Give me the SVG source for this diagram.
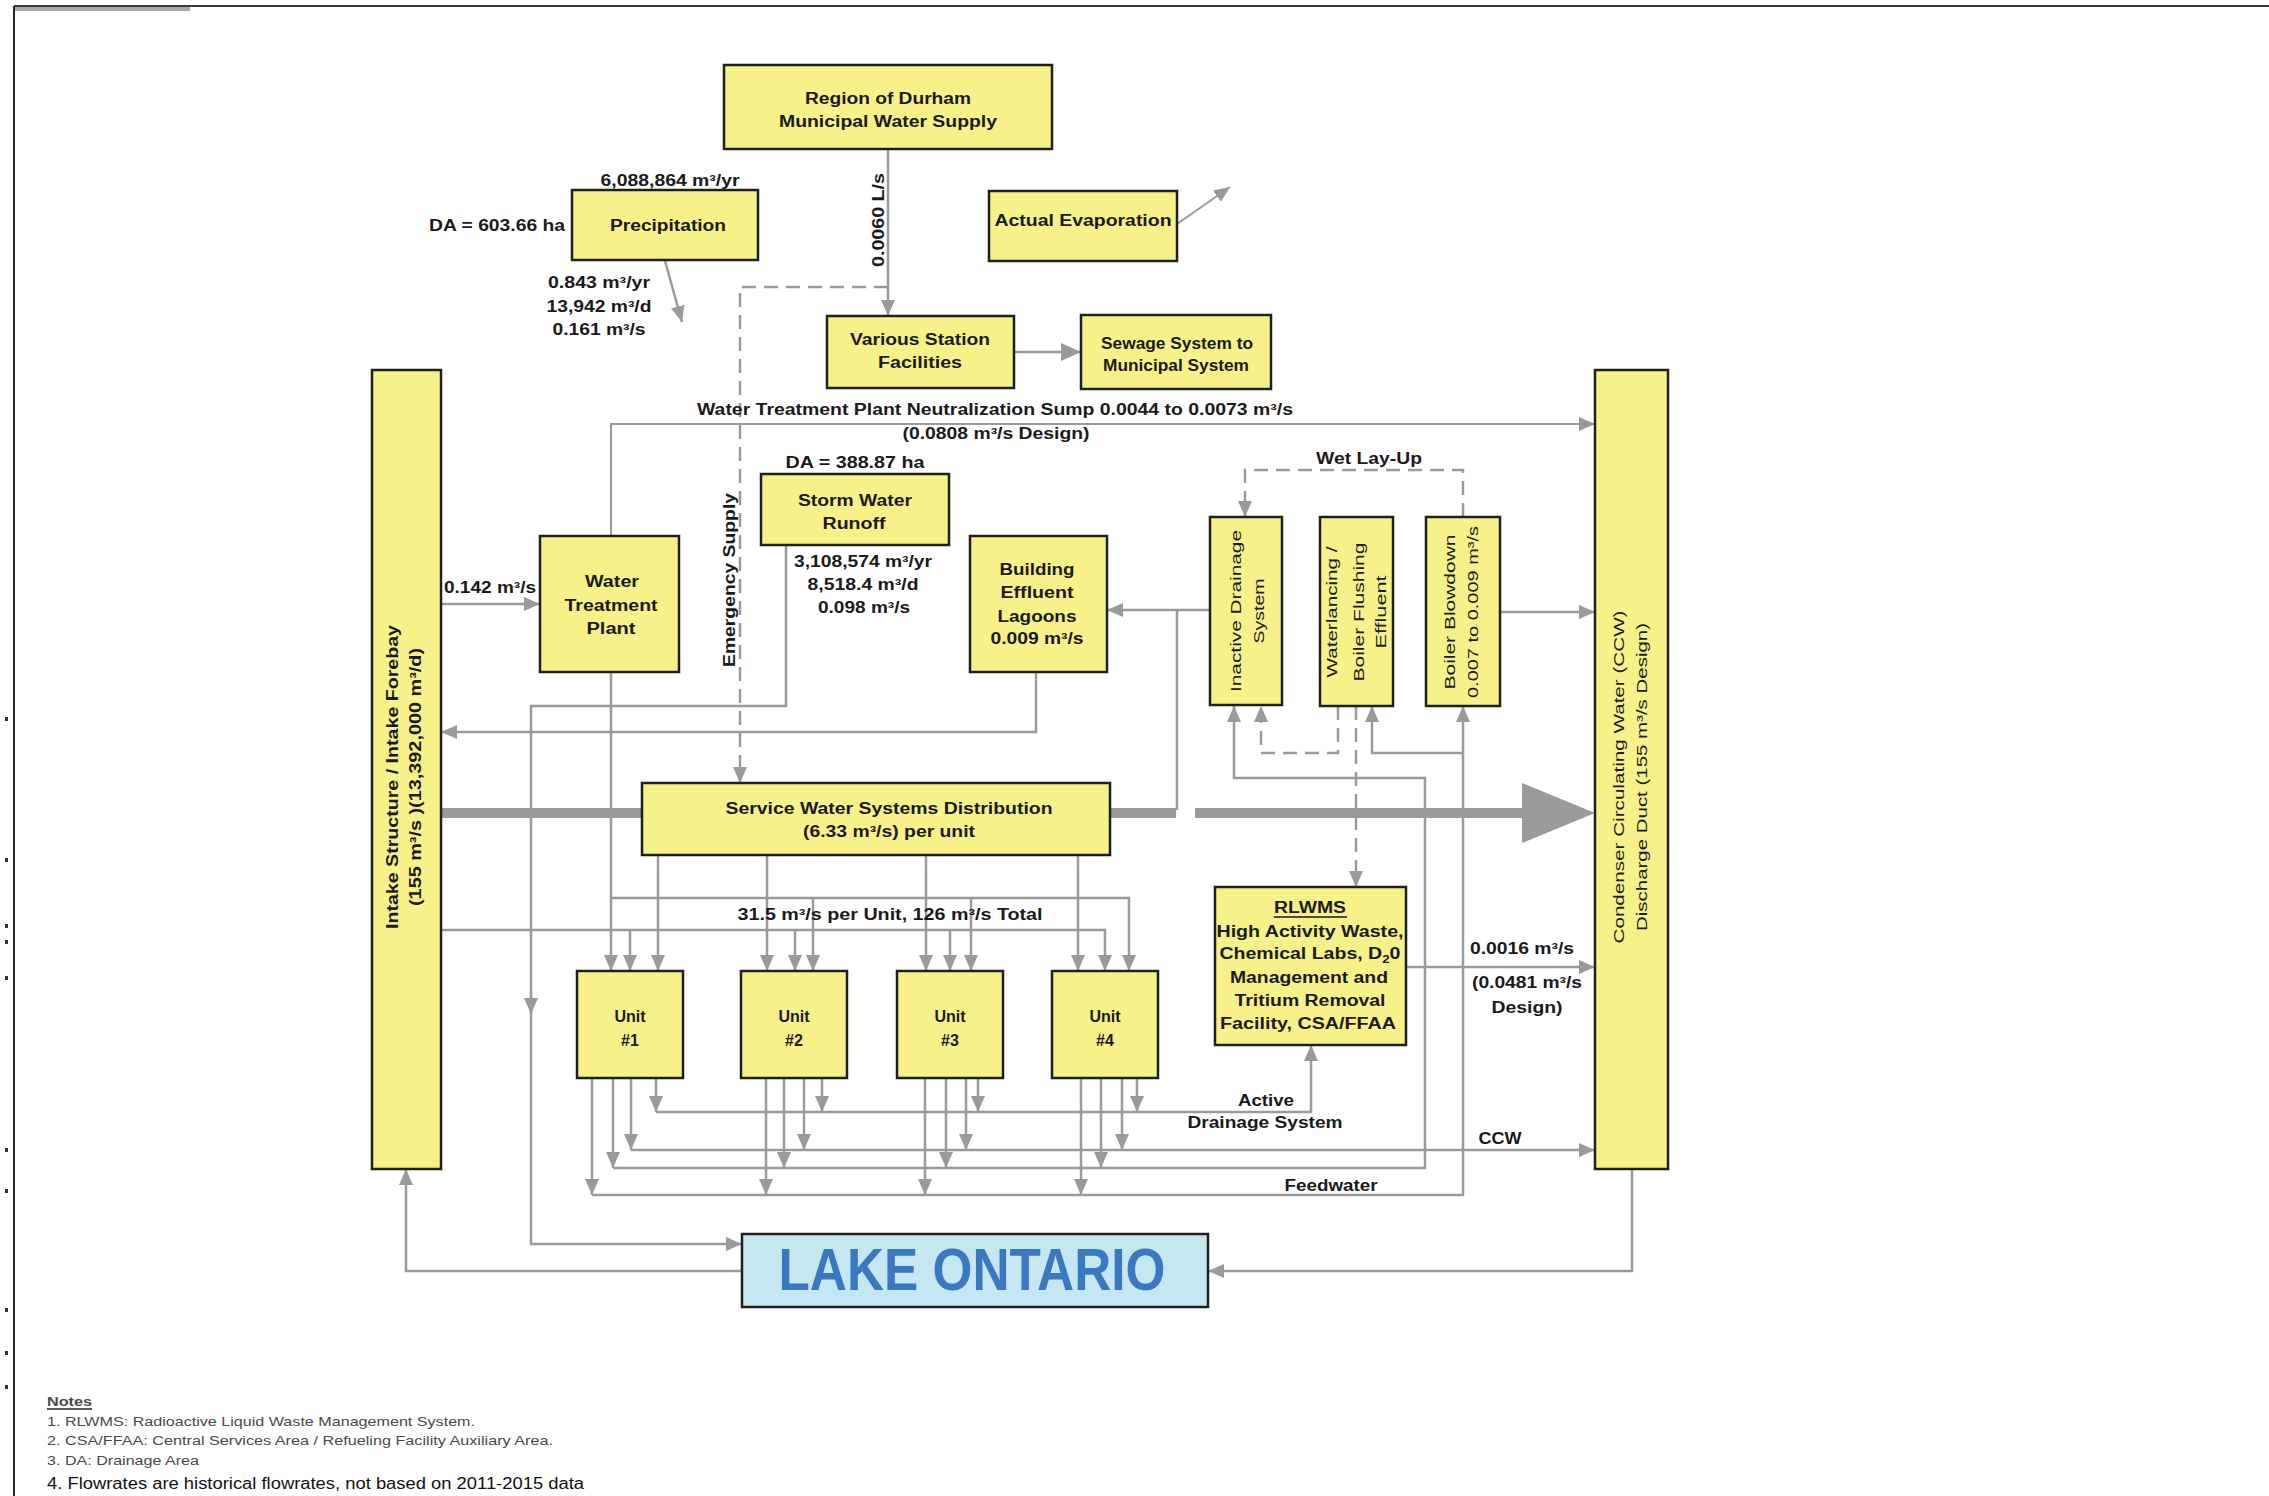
<svg xmlns="http://www.w3.org/2000/svg" width="2269" height="1496" viewBox="0 0 2269 1496">
<style>
.box{fill:#f7f189;stroke:#1f1f1f;stroke-width:2.5}
.lake{fill:#c4e7f1;stroke:#1f1f1f;stroke-width:2.5}
.ln{fill:none;stroke:#9a9a9a;stroke-width:2.5}
.thin{fill:none;stroke:#9a9a9a;stroke-width:2}
.dash{stroke-dasharray:14 8}
.t{font-family:"Liberation Sans",Arial,sans-serif;font-weight:bold;font-size:16px;fill:#1a1a1a;text-anchor:middle}
.r{font-family:"Liberation Sans",Arial,sans-serif;font-size:15px;fill:#1a1a1a;text-anchor:middle}
.note{font-family:"Liberation Sans",Arial,sans-serif;font-size:13px;fill:#4a4a4a}
</style>
<defs>
<marker id="ah" markerUnits="userSpaceOnUse" viewBox="0 0 16 14" markerWidth="16" markerHeight="14" refX="16" refY="7" orient="auto">
<path d="M0,0 L16,7 L0,14 z" fill="#9a9a9a"/>
</marker>
<marker id="ahb" markerUnits="userSpaceOnUse" viewBox="0 0 20 18" markerWidth="20" markerHeight="18" refX="20" refY="9" orient="auto">
<path d="M0,0 L20,9 L0,18 z" fill="#9a9a9a"/>
</marker>
</defs>
<rect width="2269" height="1496" fill="#ffffff"/>

<!-- page frame -->
<g id="frame">
<line x1="14" y1="6" x2="2269" y2="6" stroke="#3a3a3a" stroke-width="2"/>
<rect x="14" y="7" width="176" height="4" fill="#a8a8a8"/>
<line x1="14" y1="6" x2="14" y2="1496" stroke="#2a2a2a" stroke-width="2"/>
<g fill="#333">
<rect x="5" y="717" width="3" height="4"/><rect x="5" y="858" width="3" height="4"/>
<rect x="5" y="924" width="3" height="4"/><rect x="5" y="940" width="3" height="4"/>
<rect x="5" y="976" width="3" height="4"/><rect x="5" y="1148" width="3" height="4"/>
<rect x="5" y="1189" width="3" height="4"/><rect x="5" y="1308" width="3" height="4"/>
<rect x="5" y="1351" width="3" height="4"/><rect x="5" y="1385" width="3" height="4"/>
</g>
</g>

<!-- connectors -->
<g id="connectors">
<!-- main cooling water band -->
<g fill="#9a9a9a">
<rect x="441" y="808" width="200" height="10"/>
<rect x="1110" y="808" width="66" height="10"/>
<rect x="1195" y="808" width="330" height="10"/>
<polygon points="1522,783 1595,813 1522,843"/>
</g>
<path class="ln" d="M888,149 V316" marker-end="url(#ah)"/>
<path class="ln dash" d="M888,287 H740 V783" marker-end="url(#ah)"/>
<path class="ln" d="M665,261 L682,322" marker-end="url(#ah)"/>
<path class="thin" d="M1177,224 L1230,187" marker-end="url(#ah)"/>
<path class="ln" stroke-width="4" d="M1014,352 H1081" marker-end="url(#ahb)"/>
<path class="ln" d="M441,604 H540" marker-end="url(#ah)"/>
<path class="thin" d="M611,536 V424 H1595" marker-end="url(#ah)"/>
<!-- feeds into the units -->
<path class="ln" d="M611,672 V971" marker-end="url(#ah)"/>
<path class="ln" d="M611,898 H1129 V971" marker-end="url(#ah)"/>
<path class="ln" d="M813,898 V971" marker-end="url(#ah)"/>
<path class="ln" d="M971,898 V971" marker-end="url(#ah)"/>
<path class="ln" d="M441,930 H1105 V971" marker-end="url(#ah)"/>
<path class="ln" d="M630,930 V971" marker-end="url(#ah)"/>
<path class="ln" d="M795,930 V971" marker-end="url(#ah)"/>
<path class="ln" d="M950,930 V971" marker-end="url(#ah)"/>
<path class="ln" d="M658,855 V971" marker-end="url(#ah)"/>
<path class="ln" d="M767,855 V971" marker-end="url(#ah)"/>
<path class="ln" d="M926,855 V971" marker-end="url(#ah)"/>
<path class="ln" d="M1078,855 V971" marker-end="url(#ah)"/>
<!-- storm water and lagoons -->
<path class="ln" d="M786,545 V706 H531 V1244 H742" marker-end="url(#ah)"/>
<path class="ln" d="M531,995 V1014" marker-end="url(#ah)"/>
<path class="ln" d="M1036,672 V732 H441" marker-end="url(#ah)"/>
<path class="ln" d="M1210,610 H1107" marker-end="url(#ah)"/>
<path class="ln" d="M1177,610 V810"/>
<path class="ln" d="M1500,612 H1595" marker-end="url(#ah)"/>
<!-- wet lay-up and flushing -->
<path class="ln dash" d="M1463,517 V470 H1245 V517" marker-end="url(#ah)"/>
<path class="ln dash" d="M1338,706 V753 H1261 V706" marker-end="url(#ah)"/>
<path class="ln dash" d="M1356,706 V887" marker-end="url(#ah)"/>
<!-- unit outlets -->
<path class="ln" d="M592,1078 V1195" marker-end="url(#ah)"/>
<path class="ln" d="M613,1078 V1168" marker-end="url(#ah)"/>
<path class="ln" d="M631,1078 V1150" marker-end="url(#ah)"/>
<path class="ln" d="M656,1078 V1112" marker-end="url(#ah)"/>
<path class="ln" d="M766,1078 V1195" marker-end="url(#ah)"/>
<path class="ln" d="M784,1078 V1168" marker-end="url(#ah)"/>
<path class="ln" d="M804,1078 V1150" marker-end="url(#ah)"/>
<path class="ln" d="M822,1078 V1112" marker-end="url(#ah)"/>
<path class="ln" d="M925,1078 V1195" marker-end="url(#ah)"/>
<path class="ln" d="M946,1078 V1168" marker-end="url(#ah)"/>
<path class="ln" d="M966,1078 V1150" marker-end="url(#ah)"/>
<path class="ln" d="M978,1078 V1112" marker-end="url(#ah)"/>
<path class="ln" d="M1081,1078 V1195" marker-end="url(#ah)"/>
<path class="ln" d="M1101,1078 V1168" marker-end="url(#ah)"/>
<path class="ln" d="M1122,1078 V1150" marker-end="url(#ah)"/>
<path class="ln" d="M1137,1078 V1112" marker-end="url(#ah)"/>
<path class="ln" d="M656,1112 H1311 V1045" marker-end="url(#ah)"/>
<path class="ln" d="M631,1150 H1595" marker-end="url(#ah)"/>
<path class="ln" d="M613,1168 H1425 V778 H1234 V706" marker-end="url(#ah)"/>
<path class="ln" d="M592,1195 H1463 V706" marker-end="url(#ah)"/>
<path class="ln" d="M1463,753 H1372 V706" marker-end="url(#ah)"/>
<path class="ln" d="M1406,967 H1595" marker-end="url(#ah)"/>
<!-- lake loop -->
<path class="ln" d="M742,1271 H406 V1169" marker-end="url(#ah)"/>
<path class="ln" d="M1632,1169 V1271 H1208" marker-end="url(#ah)"/>
</g>

<!-- connector labels -->
<g id="labels">
<text class="t" x="670" y="186" textLength="139" lengthAdjust="spacingAndGlyphs">6,088,864 m³/yr</text>
<text class="t" x="497" y="231" textLength="136" lengthAdjust="spacingAndGlyphs">DA = 603.66 ha</text>
<text class="t" x="599" y="288" textLength="102" lengthAdjust="spacingAndGlyphs">0.843 m³/yr</text>
<text class="t" x="599" y="312" textLength="105" lengthAdjust="spacingAndGlyphs">13,942 m³/d</text>
<text class="t" x="599" y="335" textLength="93" lengthAdjust="spacingAndGlyphs">0.161 m³/s</text>
<text class="t" transform="translate(884,220) rotate(-90)" x="0" y="0" textLength="94" lengthAdjust="spacingAndGlyphs">0.0060 L/s</text>
<text class="t" transform="translate(735,580) rotate(-90)" x="0" y="0" textLength="174" lengthAdjust="spacingAndGlyphs">Emergency Supply</text>
<text class="t" x="995" y="415" textLength="596" lengthAdjust="spacingAndGlyphs">Water Treatment Plant Neutralization Sump 0.0044 to 0.0073 m³/s</text>
<text class="t" x="996" y="439" textLength="187" lengthAdjust="spacingAndGlyphs">(0.0808 m³/s Design)</text>
<text class="t" x="1369" y="464" textLength="106" lengthAdjust="spacingAndGlyphs">Wet Lay-Up</text>
<text class="t" x="855" y="468" textLength="139" lengthAdjust="spacingAndGlyphs">DA = 388.87 ha</text>
<text class="t" x="863" y="567" textLength="138" lengthAdjust="spacingAndGlyphs">3,108,574 m³/yr</text>
<text class="t" x="863" y="590" textLength="111" lengthAdjust="spacingAndGlyphs">8,518.4 m³/d</text>
<text class="t" x="864" y="613" textLength="92" lengthAdjust="spacingAndGlyphs">0.098 m³/s</text>
<text class="t" x="490" y="593" textLength="92" lengthAdjust="spacingAndGlyphs">0.142 m³/s</text>
<text class="t" x="890" y="920" textLength="305" lengthAdjust="spacingAndGlyphs">31.5 m³/s per Unit, 126 m³/s Total</text>
<text class="t" x="1522" y="954" textLength="104" lengthAdjust="spacingAndGlyphs">0.0016 m³/s</text>
<text class="t" x="1527" y="988" textLength="110" lengthAdjust="spacingAndGlyphs">(0.0481 m³/s</text>
<text class="t" x="1527" y="1013" textLength="71" lengthAdjust="spacingAndGlyphs">Design)</text>
<text class="t" x="1266" y="1106" textLength="56" lengthAdjust="spacingAndGlyphs">Active</text>
<text class="t" x="1265" y="1128" textLength="155" lengthAdjust="spacingAndGlyphs">Drainage System</text>
<text class="t" x="1500" y="1144" textLength="43" lengthAdjust="spacingAndGlyphs">CCW</text>
<text class="t" x="1331" y="1191" textLength="93" lengthAdjust="spacingAndGlyphs">Feedwater</text>
</g>

<!-- nodes -->
<g id="region-durham">
<rect class="box" x="724" y="65" width="328" height="84"/>
<text class="t" x="888" y="104" textLength="166" lengthAdjust="spacingAndGlyphs">Region of Durham</text>
<text class="t" x="888" y="127" textLength="218" lengthAdjust="spacingAndGlyphs">Municipal Water Supply</text>
</g>
<g id="precipitation">
<rect class="box" x="572" y="190" width="186" height="70"/>
<text class="t" x="668" y="231" textLength="116" lengthAdjust="spacingAndGlyphs">Precipitation</text>
</g>
<g id="actual-evaporation">
<rect class="box" x="989" y="191" width="188" height="70"/>
<text class="t" x="1083" y="226" textLength="177" lengthAdjust="spacingAndGlyphs">Actual Evaporation</text>
</g>
<g id="various-station">
<rect class="box" x="827" y="316" width="187" height="72"/>
<text class="t" x="920" y="345" textLength="140" lengthAdjust="spacingAndGlyphs">Various Station</text>
<text class="t" x="920" y="368" textLength="84" lengthAdjust="spacingAndGlyphs">Facilities</text>
</g>
<g id="sewage-system">
<rect class="box" x="1081" y="315" width="190" height="74"/>
<text class="t" x="1177" y="349" textLength="152" lengthAdjust="spacingAndGlyphs">Sewage System to</text>
<text class="t" x="1176" y="371" textLength="146" lengthAdjust="spacingAndGlyphs">Municipal System</text>
</g>
<g id="intake-structure">
<rect class="box" x="372" y="370" width="69" height="799"/>
<text class="t" font-size="15" transform="translate(398,777) rotate(-90)" x="0" y="0" textLength="304" lengthAdjust="spacingAndGlyphs">Intake Structure / Intake Forebay</text>
<text class="t" font-size="15" transform="translate(421,777) rotate(-90)" x="0" y="0" textLength="258" lengthAdjust="spacingAndGlyphs">(155 m³/s )(13,392,000 m³/d)</text>
</g>
<g id="condenser-ccw">
<rect class="box" x="1595" y="370" width="73" height="799"/>
<text class="r" transform="translate(1624,777) rotate(-90)" x="0" y="0" textLength="333" lengthAdjust="spacingAndGlyphs">Condenser Circulating Water (CCW)</text>
<text class="r" transform="translate(1647,777) rotate(-90)" x="0" y="0" textLength="308" lengthAdjust="spacingAndGlyphs">Discharge Duct (155 m³/s Design)</text>
</g>
<g id="water-treatment-plant">
<rect class="box" x="540" y="536" width="139" height="136"/>
<text class="t" x="612" y="587" textLength="54" lengthAdjust="spacingAndGlyphs">Water</text>
<text class="t" x="611" y="611" textLength="93" lengthAdjust="spacingAndGlyphs">Treatment</text>
<text class="t" x="611" y="634" textLength="49" lengthAdjust="spacingAndGlyphs">Plant</text>
</g>
<g id="storm-water-runoff">
<rect class="box" x="761" y="474" width="188" height="71"/>
<text class="t" x="855" y="506" textLength="114" lengthAdjust="spacingAndGlyphs">Storm Water</text>
<text class="t" x="854" y="529" textLength="63" lengthAdjust="spacingAndGlyphs">Runoff</text>
</g>
<g id="building-effluent-lagoons">
<rect class="box" x="970" y="536" width="137" height="136"/>
<text class="t" x="1037" y="575" textLength="75" lengthAdjust="spacingAndGlyphs">Building</text>
<text class="t" x="1037" y="598" textLength="73" lengthAdjust="spacingAndGlyphs">Effluent</text>
<text class="t" x="1037" y="622" textLength="79" lengthAdjust="spacingAndGlyphs">Lagoons</text>
<text class="t" x="1037" y="644" textLength="93" lengthAdjust="spacingAndGlyphs">0.009 m³/s</text>
</g>
<g id="inactive-drainage">
<rect class="box" x="1210" y="517" width="72" height="188" stroke-width="3.5"/>
<text class="r" transform="translate(1241,611) rotate(-90)" x="0" y="0" textLength="162" lengthAdjust="spacingAndGlyphs">Inactive Drainage</text>
<text class="r" transform="translate(1264,611) rotate(-90)" x="0" y="0" textLength="65" lengthAdjust="spacingAndGlyphs">System</text>
</g>
<g id="waterlancing">
<rect class="box" x="1320" y="517" width="73" height="189" stroke-width="3"/>
<text class="r" transform="translate(1337,612) rotate(-90)" x="0" y="0" textLength="131" lengthAdjust="spacingAndGlyphs">Waterlancing /</text>
<text class="r" transform="translate(1364,612) rotate(-90)" x="0" y="0" textLength="139" lengthAdjust="spacingAndGlyphs">Boiler Flushing</text>
<text class="r" transform="translate(1386,612) rotate(-90)" x="0" y="0" textLength="73" lengthAdjust="spacingAndGlyphs">Effluent</text>
</g>
<g id="boiler-blowdown">
<rect class="box" x="1426" y="517" width="74" height="189" stroke-width="3"/>
<text class="r" transform="translate(1455,612) rotate(-90)" x="0" y="0" textLength="155" lengthAdjust="spacingAndGlyphs">Boiler Blowdown</text>
<text class="r" transform="translate(1478,612) rotate(-90)" x="0" y="0" textLength="172" lengthAdjust="spacingAndGlyphs">0.007 to 0.009 m³/s</text>
</g>
<g id="service-water">
<rect class="box" x="642" y="783" width="468" height="72" stroke-width="3"/>
<text class="t" x="889" y="814" textLength="327" lengthAdjust="spacingAndGlyphs">Service Water Systems Distribution</text>
<text class="t" x="889" y="837" textLength="172" lengthAdjust="spacingAndGlyphs">(6.33 m³/s) per unit</text>
</g>
<g id="unit-1">
<rect class="box" x="577" y="971" width="106" height="107" stroke-width="3"/>
<text class="t" x="630" y="1022">Unit</text>
<text class="t" x="630" y="1046">#1</text>
</g>
<g id="unit-2">
<rect class="box" x="741" y="971" width="106" height="107" stroke-width="3"/>
<text class="t" x="794" y="1022">Unit</text>
<text class="t" x="794" y="1046">#2</text>
</g>
<g id="unit-3">
<rect class="box" x="897" y="971" width="106" height="107" stroke-width="3"/>
<text class="t" x="950" y="1022">Unit</text>
<text class="t" x="950" y="1046">#3</text>
</g>
<g id="unit-4">
<rect class="box" x="1052" y="971" width="106" height="107" stroke-width="3"/>
<text class="t" x="1105" y="1022">Unit</text>
<text class="t" x="1105" y="1046">#4</text>
</g>
<g id="rlwms">
<rect class="box" x="1215" y="887" width="191" height="158" stroke-width="3.5"/>
<text class="t" x="1310" y="913" textLength="72" lengthAdjust="spacingAndGlyphs">RLWMS</text>
<line x1="1274" y1="917" x2="1347" y2="917" stroke="#1a1a1a" stroke-width="1.5"/>
<text class="t" x="1310" y="937" textLength="187" lengthAdjust="spacingAndGlyphs">High Activity Waste,</text>
<text class="t" x="1310" y="959" textLength="181" lengthAdjust="spacingAndGlyphs">Chemical Labs, D<tspan font-size="11" dy="4">2</tspan><tspan dy="-4">0</tspan></text>
<text class="t" x="1309" y="983" textLength="158" lengthAdjust="spacingAndGlyphs">Management and</text>
<text class="t" x="1310" y="1006" textLength="151" lengthAdjust="spacingAndGlyphs">Tritium Removal</text>
<text class="t" x="1308" y="1029" textLength="176" lengthAdjust="spacingAndGlyphs">Facility, CSA/FFAA</text>
</g>
<g id="lake-ontario">
<rect class="lake" x="742" y="1234" width="466" height="73"/>
<text x="972" y="1290" text-anchor="middle" font-family="Liberation Sans, Arial, sans-serif" font-weight="bold" font-size="60" fill="#3a78c0" textLength="387" lengthAdjust="spacingAndGlyphs">LAKE ONTARIO</text>
</g>

<!-- notes -->
<g id="notes">
<text class="note" x="47" y="1406" fill="#222" font-weight="bold" textLength="45" lengthAdjust="spacingAndGlyphs">Notes</text>
<line x1="47" y1="1409" x2="92" y2="1409" stroke="#222" stroke-width="1.5"/>
<text class="note" x="47" y="1426" textLength="428" lengthAdjust="spacingAndGlyphs">1. RLWMS: Radioactive Liquid Waste Management System.</text>
<text class="note" x="47" y="1445" textLength="506" lengthAdjust="spacingAndGlyphs">2. CSA/FFAA: Central Services Area / Refueling Facility Auxiliary Area.</text>
<text class="note" x="47" y="1465" textLength="152" lengthAdjust="spacingAndGlyphs">3. DA: Drainage Area</text>
<text x="47" y="1489" font-family="Liberation Sans, Arial, sans-serif" font-size="16" fill="#111" textLength="537" lengthAdjust="spacingAndGlyphs">4. Flowrates are historical flowrates, not based on 2011-2015 data</text>
</g>
</svg>
